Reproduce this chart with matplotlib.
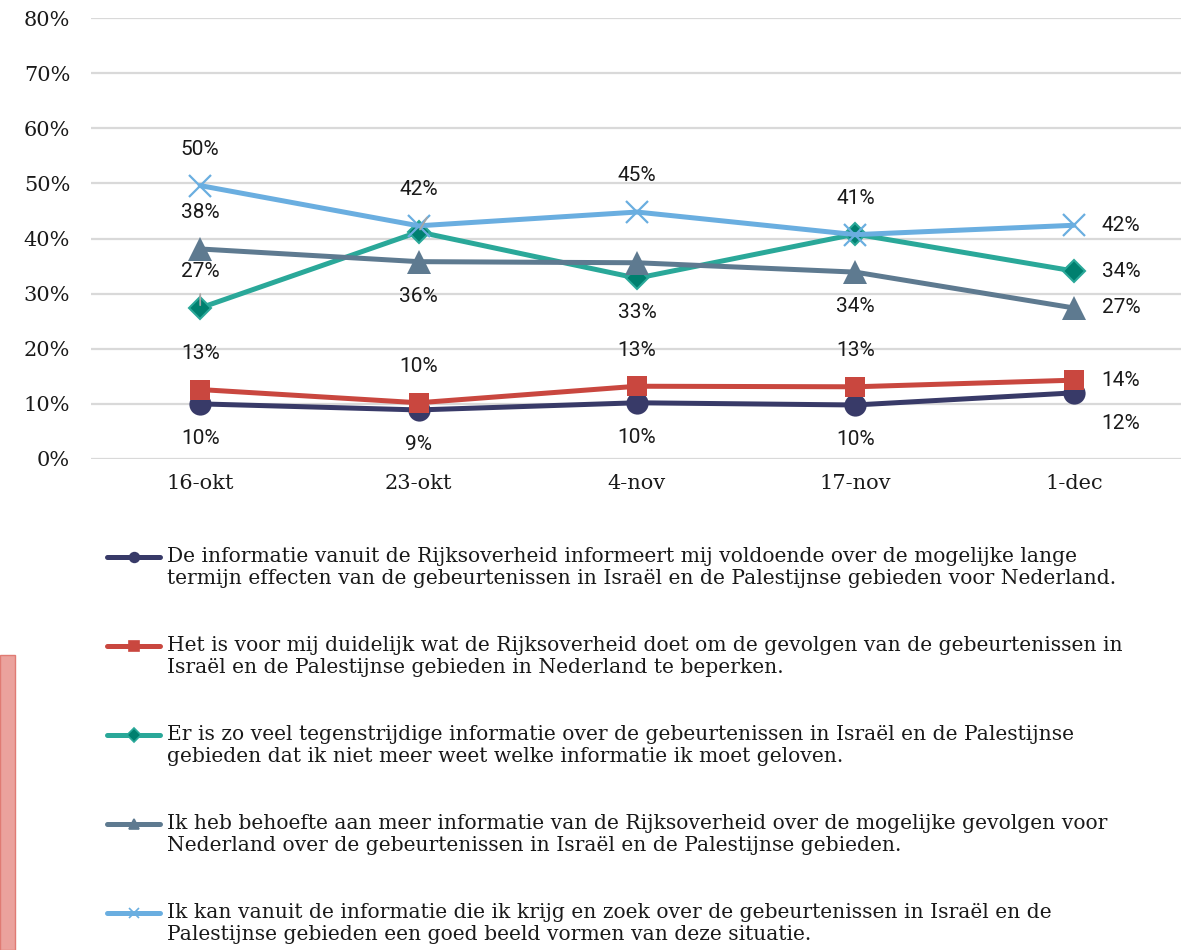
import matplotlib.pyplot as plt
from matplotlib.lines import Line2D
from matplotlib.patches import Rectangle

# Data (percentages per meetmoment)
dates = ["16-okt", "23-okt", "4-nov", "17-nov", "1-dec"]
informeert = [10.0, 8.9, 10.2, 9.8, 12.0]
duidelijk = [12.6, 10.2, 13.2, 13.1, 14.3]
tegenstrijdig = [27.4, 41.2, 32.8, 40.8, 34.1]
behoefte = [38.1, 35.8, 35.6, 33.9, 27.4]
goed_beeld = [49.6, 42.3, 44.8, 40.7, 42.4]

legend_texts = [
    "De informatie vanuit de Rijksoverheid informeert mij voldoende over de mogelijke lange\n"
    "termijn effecten van de gebeurtenissen in Israël en de Palestijnse gebieden voor Nederland.",
    "Het is voor mij duidelijk wat de Rijksoverheid doet om de gevolgen van de gebeurtenissen in\n"
    "Israël en de Palestijnse gebieden in Nederland te beperken.",
    "Er is zo veel tegenstrijdige informatie over de gebeurtenissen in Israël en de Palestijnse\n"
    "gebieden dat ik niet meer weet welke informatie ik moet geloven.",
    "Ik heb behoefte aan meer informatie van de Rijksoverheid over de mogelijke gevolgen voor\n"
    "Nederland over de gebeurtenissen in Israël en de Palestijnse gebieden.",
    "Ik kan vanuit de informatie die ik krijg en zoek over de gebeurtenissen in Israël en de\n"
    "Palestijnse gebieden een goed beeld vormen van deze situatie.",
]

# where each data label sits (None = label hidden in original)
label_pos = [
    ["below", "below", "below", "below", "rightbelow"],
    ["above", "above", "above", "above", "right"],
    ["above", None, "below", None, "right"],
    ["above", "below", None, "below", "right"],
    ["above", "above", "above", "above", "right"],
]

series = [informeert, duidelijk, tegenstrijdig, behoefte, goed_beeld]
styles = [
    dict(color="#383a68", marker="o", ms=16, mfc="#383a68", mec="#383a68", mew=0),
    dict(color="#c9473f", marker="s", ms=15, mfc="#c9473f", mec="#c9473f", mew=0),
    dict(color="#2aa899", marker="D", ms=11, mfc="#00806f", mec="#2aa899", mew=1.5),
    dict(color="#5e7a90", marker="^", ms=17, mfc="#5e7a90", mec="#5e7a90", mew=0),
    dict(color="#6aaee0", marker="x", ms=16, mfc="none", mec="#6aaee0", mew=1.6),
]
offsets = {"above": (0, 26), "below": (0, -25), "right": (34, 0), "rightbelow": (34, -22)}

serif = "DejaVu Serif"
sans = "Roboto"

fig = plt.figure(figsize=(11.81, 9.5), dpi=100)
ax = fig.add_axes([91 / 1181, 1 - 459 / 950, 1092 / 1181, 441 / 950])

x = list(range(len(dates)))
for vals, st, pos in zip(series, styles, label_pos):
    ax.plot(x, vals, lw=3.6, solid_capstyle="round", clip_on=False, **st)
    for xi, v, p in zip(x, vals, pos):
        if p is None:
            continue
        ax.annotate(f"{round(v):d}%", (xi, v), xytext=offsets[p], textcoords="offset points",
                    ha="center", va="center", fontsize=15, family=sans, color="#1a1a1a")

# small leader lines from the original
ax.annotate("", xy=(0, tegenstrijdig[0]), xytext=(0, 12), textcoords="offset points",
            arrowprops=dict(arrowstyle="-", color="#a6a6a6", lw=1.3))
ax.annotate("", xy=(1, tegenstrijdig[1]), xytext=(7, 12), textcoords="offset points",
            arrowprops=dict(arrowstyle="-", color="#a6a6a6", lw=1.3))

ax.set_xlim(-0.5, len(dates) - 0.5)
ax.set_ylim(0, 80)
ax.set_yticks(range(0, 81, 10))
ax.set_yticklabels([f"{t}%" for t in range(0, 81, 10)], family=serif, fontsize=15)
ax.set_xticks(x)
ax.set_xticklabels(dates, family=serif, fontsize=15)
ax.tick_params(axis="y", length=0, pad=15, colors="#1a1a1a")
ax.tick_params(axis="x", length=0, pad=11, colors="#1a1a1a")
ax.grid(axis="y", color="#d9d9d9", lw=1.6)
ax.set_axisbelow(True)
for s in ax.spines.values():
    s.set_visible(False)

# legend drawn by hand to get the Excel-like look
for i, (txt, st) in enumerate(zip(legend_texts, styles)):
    yy = 1 - (557 + 89 * i) / 950
    fig.add_artist(Line2D([107 / 1181, 160 / 1181], [yy, yy], transform=fig.transFigure,
                          color=st["color"], lw=3.6, solid_capstyle="round"))
    fig.add_artist(Line2D([133.5 / 1181], [yy], transform=fig.transFigure,
                          marker=st["marker"], ms=7,
                          mfc=st["mfc"] if st["mfc"] != "none" else st["color"],
                          mec=st["mec"], mew=1.2, ls="none"))
    fig.text(167 / 1181, yy + 10 / 950, txt, family=serif, fontsize=14.6, va="top", ha="left",
             color="#1a1a1a", linespacing=1.17)

# pink band at lower left edge of the page
fig.add_artist(Rectangle((0, 0), 15 / 1181, 295 / 950, transform=fig.transFigure,
                         facecolor="#eba29d", edgecolor="#e07b74", lw=1))

fig.savefig("out.png", dpi=100)
